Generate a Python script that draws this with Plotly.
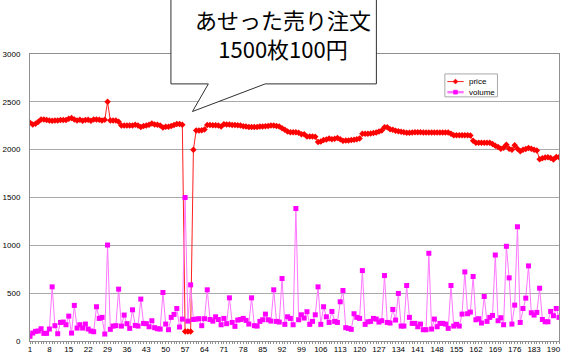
import plotly.graph_objects as go

# ---- data ----
price = [
    2281, 2264, 2271, 2292, 2316, 2316, 2309, 2306, 2302, 2306,
    2306, 2309, 2309, 2309, 2323, 2330, 2316, 2306, 2312, 2302,
    2309, 2312, 2302, 2316, 2316, 2312, 2306, 2312, 2500, 2306,
    2306, 2306, 2292, 2253, 2253, 2253, 2253, 2253, 2260, 2253,
    2236, 2247, 2253, 2260, 2274, 2264, 2260, 2253, 2233, 2240,
    2240, 2247, 2257, 2267, 2267, 2260, 100, 100, 100, 2000,
    2200, 2200, 2203, 2210, 2259, 2259, 2255, 2255, 2252, 2241,
    2266, 2262, 2262, 2259, 2259, 2255, 2252, 2245, 2241, 2238,
    2238, 2238, 2238, 2241, 2241, 2245, 2248, 2252, 2252, 2248,
    2241, 2224, 2207, 2190, 2183, 2183, 2183, 2176, 2162, 2160,
    2138, 2138, 2138, 2135, 2079, 2086, 2100, 2107, 2117, 2110,
    2114, 2121, 2110, 2093, 2095, 2097, 2100, 2103, 2110, 2117,
    2166, 2166, 2166, 2170, 2173, 2180, 2190, 2200, 2235, 2235,
    2214, 2207, 2197, 2193, 2186, 2183, 2176, 2176, 2180, 2183,
    2183, 2183, 2180, 2180, 2179, 2179, 2179, 2179, 2180, 2180,
    2180, 2180, 2166, 2150, 2150, 2150, 2150, 2150, 2150, 2148,
    2093, 2072, 2072, 2072, 2072, 2072, 2072, 2059, 2040, 2028,
    2010, 2020, 2052, 2010, 2000, 2045, 2010, 1983, 2000, 2007,
    2017, 2010, 2000, 1990, 1900, 1910, 1917, 1921, 1914, 1897,
    1924, 1920,
]

volume = [
    49, 83, 101, 104, 128, 80, 80, 125, 566, 160,
    76, 194, 198, 170, 260, 83, 372, 135, 170, 135,
    177, 125, 104, 97, 358, 236, 247, 73, 1003, 122,
    156, 160, 542, 156, 271, 181, 132, 326, 163, 156,
    438, 184, 181, 149, 212, 139, 128, 125, 507, 177,
    118, 247, 278, 340, 146, 229, 1500, 208, 587, 225,
    229, 233, 160, 233, 535, 225, 208, 253, 225, 170,
    236, 181, 451, 194, 153, 219, 225, 236, 215, 177,
    451, 160, 156, 205, 222, 281, 222, 208, 535, 205,
    198, 653, 174, 253, 236, 170, 1385, 222, 274, 240,
    306, 174, 205, 274, 566, 174, 358, 253, 194, 309,
    205, 194, 410, 528, 139, 132, 122, 285, 247, 236,
    736, 174, 201, 205, 236, 229, 198, 212, 684, 194,
    188, 330, 219, 497, 156, 156, 580, 247, 184, 184,
    149, 177, 118, 118, 917, 125, 229, 149, 184, 184,
    177, 132, 580, 156, 174, 156, 281, 722, 285, 302,
    674, 222, 233, 188, 465, 205, 247, 267, 899, 212,
    243, 170, 990, 660, 177, 375, 1194, 194, 340, 448,
    785, 295, 271, 299, 552, 225, 201, 201, 309, 264,
    340, 247,
]

series_names = ["price", "volume"]
x_index = list(range(1, len(price) + 1))
x_tick_vals = list(range(1, len(price) + 1, 7))
x_tick_text = [str(v) for v in x_tick_vals]
y_tick_vals = [0, 500, 1000, 1500, 2000, 2500, 3000]
y_tick_text = [str(v) for v in y_tick_vals]
callout_lines = ["あせった売り注文", "1500枚100円"]

# ---- styles ----
PRICE_LINE, PRICE_MARK = "#ff2020", "#ff0000"
VOL_LINE, VOL_MARK = "#ff77ff", "#ff00ff"

# ---- layout geometry (pixels) ----
W, H = 564, 357
L, R, T, B = 28, 561, 54, 342


def px(x):
    return (x - L) / (R - L)


def py(y):
    return (B - y) / (B - T)


fig = go.Figure()
fig.add_trace(go.Scatter(
    x=x_index, y=price, name=series_names[0], mode="lines+markers",
    line=dict(color=PRICE_LINE, width=1),
    marker=dict(symbol="diamond", size=5, color=PRICE_MARK),
))
fig.add_trace(go.Scatter(
    x=x_index, y=volume, name=series_names[1], mode="lines+markers",
    line=dict(color=VOL_LINE, width=1),
    marker=dict(symbol="square", size=5, color=VOL_MARK),
))

axis_font = dict(family="Liberation Sans, Arial, sans-serif", size=8, color="#000000")

fig.update_layout(
    width=W, height=H,
    margin=dict(l=L, r=W - R, t=T, b=H - B, pad=0),
    paper_bgcolor="white", plot_bgcolor="white",
    showlegend=False,
    xaxis=dict(
        range=[1, len(price)], tickmode="array",
        tickvals=x_tick_vals, ticktext=x_tick_text,
        tickfont=axis_font, showgrid=False, zeroline=False,
        showline=True, linecolor="#909090", linewidth=1, mirror=True,
        ticks="outside", ticklen=2, tickcolor="#909090",
        ticklabelstandoff=-2,
        minor=dict(dtick=1, tick0=1, ticks="outside", ticklen=2, tickcolor="#909090"),
    ),
    yaxis=dict(
        range=[0, 3000], tickmode="array",
        tickvals=y_tick_vals, ticktext=y_tick_text,
        tickfont=axis_font, showgrid=True, gridcolor="#aaaaaa", gridwidth=1,
        zeroline=False, showline=True, linecolor="#909090", linewidth=1, mirror=True,
        ticks="", ticklabelstandoff=7,
    ),
)

# ---- legend box (drawn to match the small Excel-style legend) ----
LEG_X0, LEG_X1, LEG_Y0, LEG_Y1 = 446, 499, 74, 97
fig.add_shape(type="rect", xref="paper", yref="paper",
              x0=px(LEG_X0), x1=px(LEG_X1), y0=py(LEG_Y1), y1=py(LEG_Y0),
              fillcolor="white", line=dict(color="#a8a8a8", width=1), layer="above")
legend_rows = [(81.7, PRICE_LINE, PRICE_MARK, "diamond"), (92.3, VOL_LINE, VOL_MARK, "square")]
for name, (yy, lc, mc, sym) in zip(series_names, legend_rows):
    fig.add_shape(type="line", xref="paper", yref="paper",
                  x0=px(448.5), x1=px(465), y0=py(yy), y1=py(yy),
                  line=dict(color=lc, width=1 if sym == "diamond" else 2.5), layer="above")
    cx, cy = 456.7, yy
    if sym == "diamond":
        p = (f"M {px(cx-2.5):.5f},{py(cy):.5f} L {px(cx):.5f},{py(cy-2.5):.5f} "
             f"L {px(cx+2.5):.5f},{py(cy):.5f} L {px(cx):.5f},{py(cy+2.5):.5f} Z")
        fig.add_shape(type="path", path=p, xref="paper", yref="paper",
                      fillcolor=mc, line=dict(color=mc, width=0.5), layer="above")
    else:
        fig.add_shape(type="rect", xref="paper", yref="paper",
                      x0=px(cx - 2), x1=px(cx + 2), y0=py(cy + 2), y1=py(cy - 2),
                      fillcolor=mc, line=dict(color=mc, width=0.5), layer="above")
    fig.add_annotation(text=name, xref="paper", yref="paper",
                       x=px(468), y=py(yy), xanchor="left", yanchor="middle",
                       showarrow=False,
                       font=dict(family="Liberation Sans, Arial, sans-serif", size=8, color="#000"))

# ---- callout bubble ----
pts = [(170, -3), (170, 84), (207.7, 84), (191.7, 111.7), (265, 84), (377, 84), (377, -3)]
path = "M " + " L ".join(f"{px(a):.5f},{py(b):.5f}" for a, b in pts) + " Z"
fig.add_shape(type="path", path=path, xref="paper", yref="paper",
              fillcolor="white", line=dict(color="#303030", width=1), layer="above")

fig.add_annotation(
    text="<br>".join(callout_lines), xref="paper", yref="paper",
    x=px(283), y=py(33.5), xanchor="center", yanchor="middle",
    showarrow=False, align="center",
    font=dict(family="Noto Sans CJK JP", size=22, color="#000000"),
)

# remove the browser's default page margin so the figure sits at the window origin
fig.write_html("out.html", config={"displayModeBar": False},
               post_script="document.body.style.margin='0';")
